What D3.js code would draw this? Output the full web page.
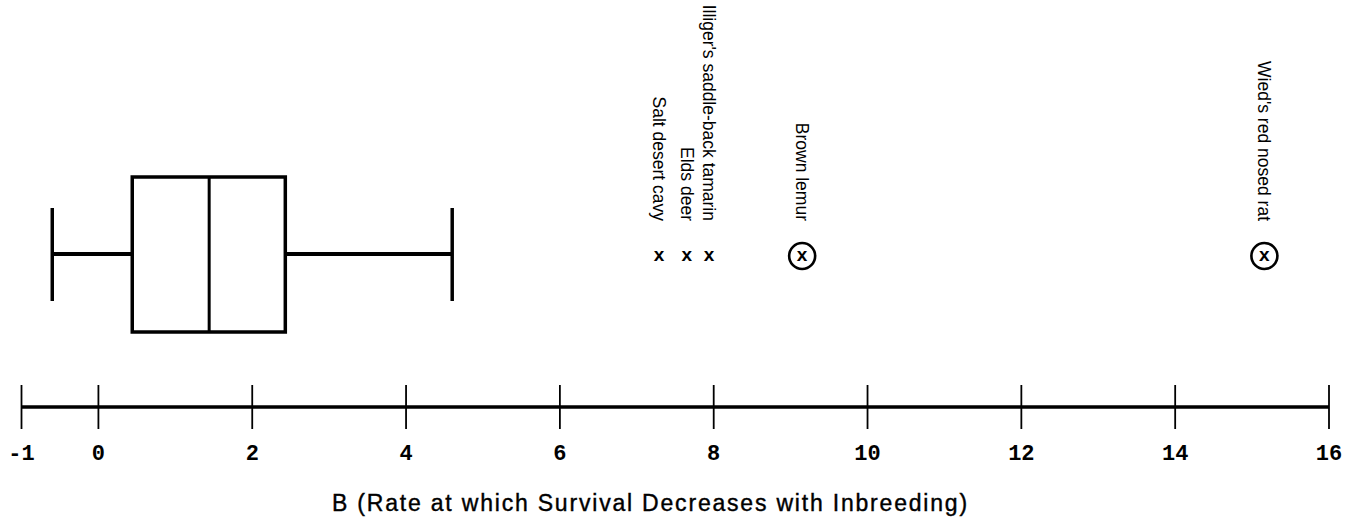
<!DOCTYPE html>
<html>
<head>
<meta charset="utf-8">
<script src="https://cdnjs.cloudflare.com/ajax/libs/d3/7.8.5/d3.min.js"></script>
<style>
  body { margin: 0; background: #fff; }
  svg { display: block; }
</style>
</head>
<body>
<div id="chart"></div>
<script>
// Box summary
const boxStats = { low: -0.6, q1: 0.44, median: 1.44, q3: 2.43, high: 4.6 };

// Outlying species
const outlierNames = ["Salt desert cavy", "Elds deer", "Illiger's saddle-back tamarin", "Brown lemur", "Wied's red nosed rat"];
const outlierValues = [7.29, 7.65, 7.94, 9.15, 15.16];
const outlierCircled = [false, false, false, true, true];

// Axis ticks
const tickValues = [-1, 0, 2, 4, 6, 8, 10, 12, 14, 16];
const axisTitle = "B (Rate at which Survival Decreases with Inbreeding)";

const width = 1350, height = 521;

const svg = d3.select("#chart").append("svg")
    .attr("width", width)
    .attr("height", height);

const x = d3.scaleLinear()
    .domain([-1, 16])
    .range([21.5, 1329]);

// vertical layout
const boxTop = 177, boxBottom = 332, midY = 254;
const capTop = 208, capBottom = 301;
const axisY = 407;

// ---- box plot
const box = svg.append("g").attr("stroke", "#000").attr("fill", "none");

box.append("rect")
    .attr("x", x(boxStats.q1))
    .attr("y", boxTop)
    .attr("width", x(boxStats.q3) - x(boxStats.q1))
    .attr("height", boxBottom - boxTop)
    .attr("stroke-width", 3.5);

box.append("line")
    .attr("x1", x(boxStats.median)).attr("x2", x(boxStats.median))
    .attr("y1", boxTop).attr("y2", boxBottom)
    .attr("stroke-width", 3);

// whiskers
[[boxStats.low, boxStats.q1], [boxStats.q3, boxStats.high]].forEach(([a, b]) => {
    box.append("line")
        .attr("x1", x(a)).attr("x2", x(b))
        .attr("y1", midY).attr("y2", midY)
        .attr("stroke-width", 4);
});
[boxStats.low, boxStats.high].forEach(v => {
    box.append("line")
        .attr("x1", x(v)).attr("x2", x(v))
        .attr("y1", capTop).attr("y2", capBottom)
        .attr("stroke-width", 3.5);
});

// ---- outliers
const outliers = outlierNames.map((name, i) => ({ name, value: outlierValues[i], circled: outlierCircled[i] }));
const markY = 256;

const og = svg.append("g").selectAll("g")
    .data(outliers)
    .enter().append("g")
    .attr("transform", d => `translate(${x(d.value)},0)`);

og.filter(d => d.circled).append("circle")
    .attr("cx", 0)
    .attr("cy", markY)
    .attr("r", 13)
    .attr("fill", "none")
    .attr("stroke", "#000")
    .attr("stroke-width", 2.6);

og.append("text")
    .attr("x", 0)
    .attr("y", markY)
    .attr("dy", "0.27em")
    .attr("text-anchor", "middle")
    .style("font-family", "'Liberation Sans', Arial, sans-serif")
    .style("font-weight", "bold")
    .style("font-size", "19px")
    .text("x");

og.append("text")
    .attr("transform", "translate(0,221) rotate(90)")
    .attr("dy", "0.35em")
    .attr("text-anchor", "end")
    .style("font-family", "'Liberation Sans', Arial, sans-serif")
    .style("font-size", "17.5px")
    .text(d => d.name);

// ---- axis
const axis = svg.append("g").attr("stroke", "#000");

axis.append("line")
    .attr("x1", x(-1)).attr("x2", x(16))
    .attr("y1", axisY).attr("y2", axisY)
    .attr("stroke-width", 3.5);

axis.selectAll(".tick")
    .data(tickValues)
    .enter().append("line")
    .attr("class", "tick")
    .attr("x1", d => x(d)).attr("x2", d => x(d))
    .attr("y1", 385).attr("y2", 429)
    .attr("stroke-width", 1.8);

svg.append("g").selectAll("text")
    .data(tickValues)
    .enter().append("text")
    .attr("x", d => x(d))
    .attr("y", 460)
    .attr("text-anchor", "middle")
    .style("font-family", "'Liberation Mono', 'Courier New', monospace")
    .style("font-weight", "bold")
    .style("font-size", "22px")
    .text(d => d);

svg.append("text")
    .attr("x", 332)
    .attr("y", 511)
    .attr("stroke", "#000")
    .attr("stroke-width", 0.4)
    .style("font-family", "'Liberation Sans', Arial, sans-serif")
    .style("font-size", "23px")
    .style("letter-spacing", "1.8px")
    .text(axisTitle);
</script>
</body>
</html>
